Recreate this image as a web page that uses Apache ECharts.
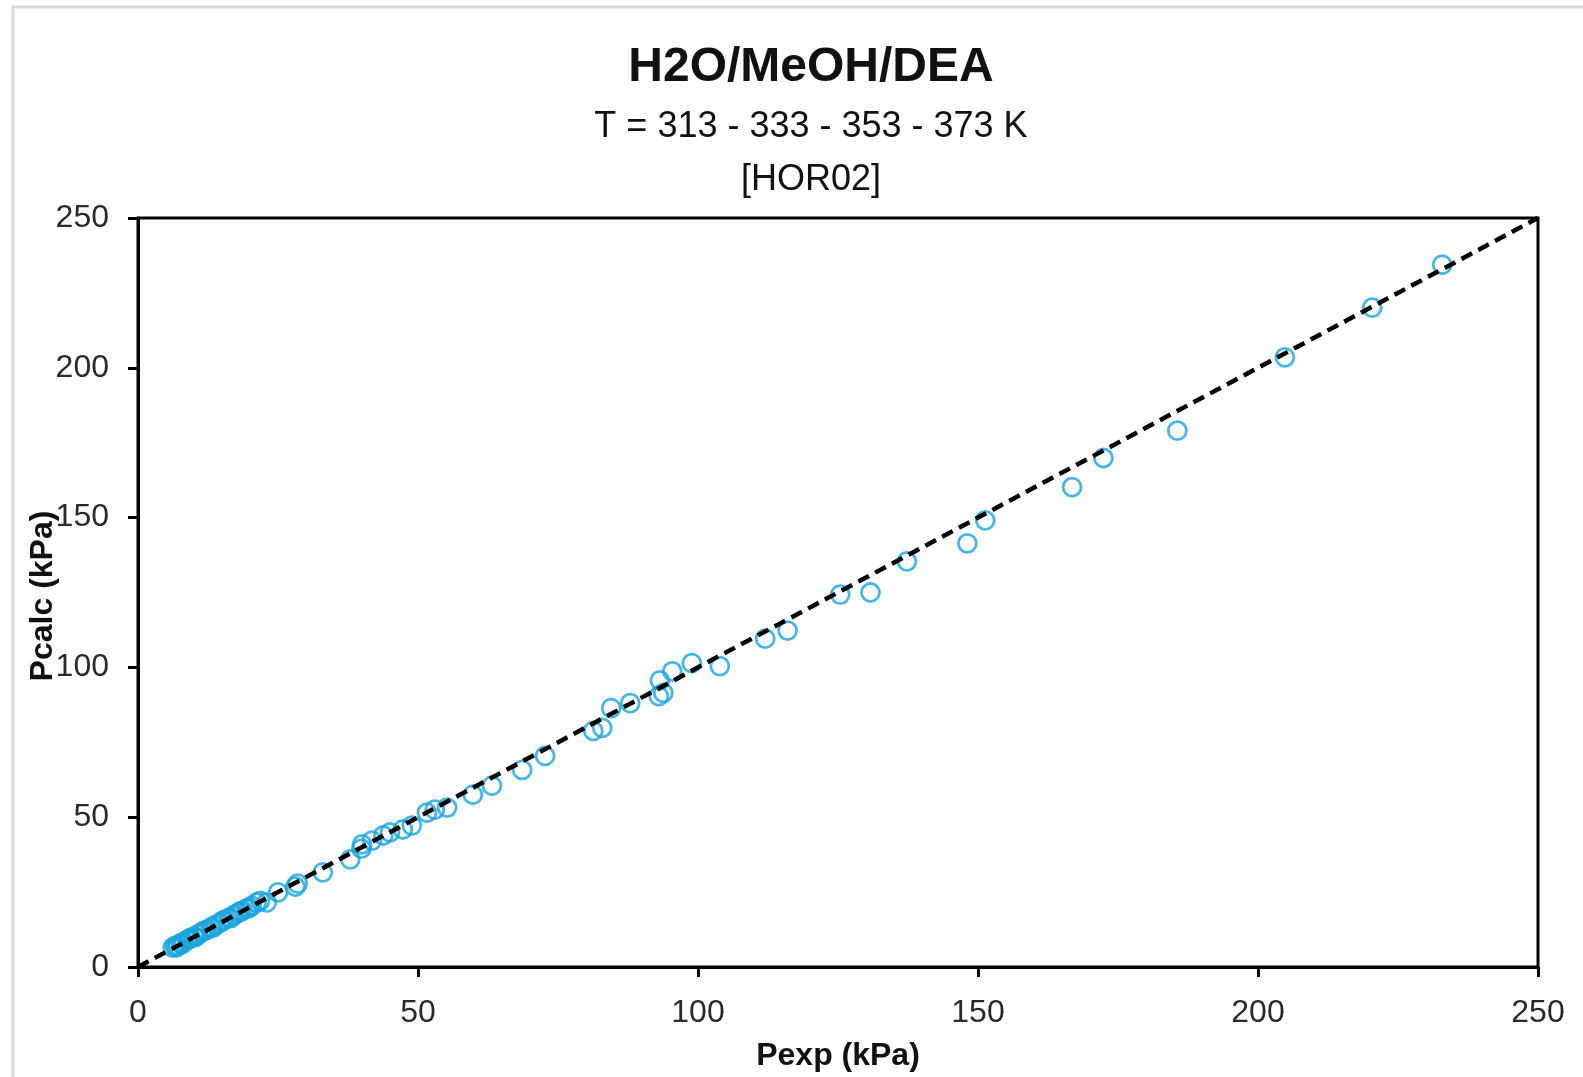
<!DOCTYPE html>
<html>
<head>
<meta charset="utf-8">
<title>H2O/MeOH/DEA</title>
<script src="https://cdn.jsdelivr.net/npm/echarts@6/dist/echarts.min.js"></script>
<style>
  html, body { margin: 0; padding: 0; background: #ffffff; }
  #chart { width: 1583px; height: 1077px; }
</style>
</head>
<body>
<div id="chart"></div>
<script>
// Experimental vs calculated total pressure (kPa)
const pExp = [
  6.2, 6.6, 7.1, 7.6, 8.2, 8.8, 9.4, 10.0, 10.7, 11.4,
  12.2, 13.0, 13.8, 14.6, 15.4, 16.2, 17.0, 17.8, 18.6, 19.4,
  20.3, 21.2, 23.0, 25.0, 28.1, 28.5, 33.0, 37.9, 39.9, 40.0,
  41.8, 43.8, 45.0, 47.3, 48.9, 51.6, 53.0, 55.2, 59.8, 63.2,
  68.6, 72.7, 81.3, 82.9, 84.5, 87.9, 93.0, 93.8, 93.2, 95.4,
  98.9, 103.9, 112.0, 116.0, 125.4, 130.8, 137.3, 148.1, 151.3, 166.8,
  172.4, 185.6, 204.8, 220.4, 232.9,
  6.9, 7.9, 9.0, 10.3, 11.8, 13.4, 15.0, 16.6, 18.2, 19.9, 21.8
];
const pCalc = [
  6.5, 7.0, 7.2, 7.9, 8.4, 9.0, 9.7, 10.1, 10.9, 11.6,
  12.3, 13.2, 14.0, 14.7, 15.6, 16.4, 17.2, 18.0, 18.7, 19.6,
  20.4, 21.5, 21.6, 24.9, 26.8, 27.8, 31.6, 35.9, 39.5, 40.9,
  42.2, 43.9, 44.9, 45.9, 47.2, 51.5, 52.5, 53.2, 57.5, 60.5,
  65.8, 70.5, 78.8, 79.8, 86.4, 88.1, 90.4, 91.5, 95.7, 98.7,
  101.4, 100.4, 109.6, 112.3, 124.3, 125.0, 135.4, 141.4, 149.1, 160.2,
  169.9, 179.0, 203.5, 220.1, 234.4,
  6.6, 7.6, 9.3, 10.0, 12.1, 13.1, 15.3, 16.3, 18.5, 19.7, 22.1
];
// Parity line y = x
const parityX = [0, 250];
const parityY = [0, 250];
const axisTicks = [0, 50, 100, 150, 200, 250];

const points = pExp.map((v, i) => [v, pCalc[i]]);
const parity = parityX.map((v, i) => [v, parityY[i]]);

const chart = echarts.init(document.getElementById('chart'), null, { renderer: 'canvas' });

const FONT = '"Liberation Sans", Arial, sans-serif';

chart.setOption({
  animation: false,
  backgroundColor: '#ffffff',
  graphic: [
    {
      type: 'rect',
      shape: { x: 13, y: 7, width: 1700, height: 1200 },
      style: { fill: 'none', stroke: '#d9d9d9', lineWidth: 3 },
      silent: true
    },
    {
      type: 'text', x: 811, y: 68,
      style: { text: 'H2O/MeOH/DEA', font: 'bold 48px ' + FONT, fill: '#111', textAlign: 'center', textVerticalAlign: 'middle' }
    },
    {
      type: 'text', x: 811, y: 127,
      style: { text: 'T = 313 - 333 - 353 - 373 K', font: '36px ' + FONT, fill: '#111', textAlign: 'center', textVerticalAlign: 'middle' }
    },
    {
      type: 'text', x: 811, y: 180,
      style: { text: '[HOR02]', font: '36px ' + FONT, fill: '#111', textAlign: 'center', textVerticalAlign: 'middle' }
    },
    {
      type: 'text', x: 43, y: 596, rotation: Math.PI / 2,
      style: { text: 'Pcalc (kPa)', font: 'bold 32px ' + FONT, fill: '#111', textAlign: 'center', textVerticalAlign: 'middle' }
    }
  ],
  grid: {
    left: 138, top: 218, width: 1400, height: 752,
    show: true, borderColor: '#000', borderWidth: 3, backgroundColor: 'transparent'
  },
  xAxis: {
    type: 'value', min: axisTicks[0], max: axisTicks[axisTicks.length - 1], interval: 50,
    name: 'Pexp (kPa)', nameLocation: 'middle', nameGap: 73, nameMoveOverlap: false,
    nameTextStyle: { fontFamily: FONT, fontSize: 32, fontWeight: 'bold', color: '#111' },
    axisLine: { show: true, onZero: false, lineStyle: { color: '#000', width: 3 } },
    axisTick: { show: true, length: 10, lineStyle: { color: '#000', width: 3 } },
    axisLabel: { margin: 30, fontFamily: FONT, fontSize: 32, color: '#2a2a2a' },
    splitLine: { show: false }
  },
  yAxis: {
    type: 'value', min: axisTicks[0], max: axisTicks[axisTicks.length - 1], interval: 50,
    axisLine: { show: true, onZero: false, lineStyle: { color: '#000', width: 3 } },
    axisTick: { show: true, length: 10, lineStyle: { color: '#000', width: 3 } },
    axisLabel: { margin: 29, fontFamily: FONT, fontSize: 32, color: '#2a2a2a' },
    splitLine: { show: false }
  },
  series: [
    {
      type: 'scatter',
      data: points,
      symbol: 'circle',
      symbolSize: 18,
      itemStyle: { color: 'rgba(0,0,0,0)', borderColor: '#1aa4dd', borderWidth: 2.8 },
      z: 2
    },
    {
      type: 'line',
      data: parity,
      symbol: 'none',
      lineStyle: { color: '#000', width: 4.5, type: [12, 7] },
      z: 3
    }
  ]
});
</script>
</body>
</html>
